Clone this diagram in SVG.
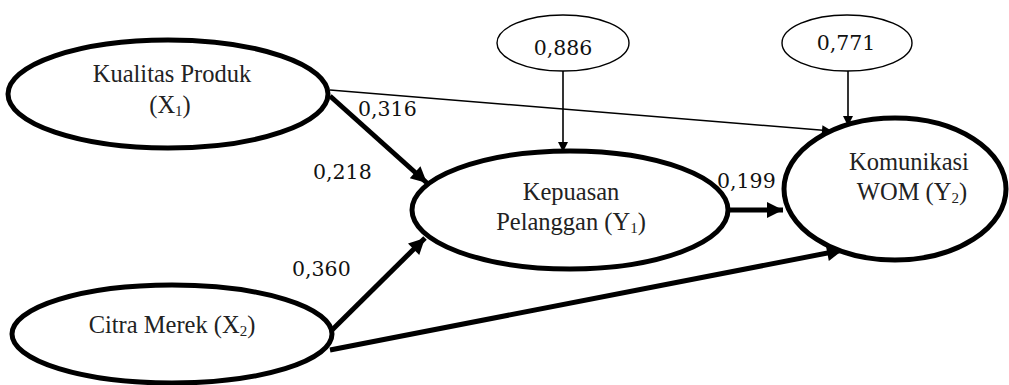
<svg xmlns="http://www.w3.org/2000/svg" width="1009" height="385" viewBox="0 0 1009 385">
<style>
.big{fill:#fff;stroke:#000;stroke-width:5}
.small{fill:#fff;stroke:#000;stroke-width:1.4}
.lbl{font-size:24.5px;fill:#222;text-anchor:middle}
.num{font-size:20.5px;fill:#111}
.thick{stroke:#000;stroke-width:5;fill:none}
.thin{stroke:#000;stroke-width:1.6;fill:none}
.sub{font-size:15px}
</style>
<defs>
<marker id="ah" viewBox="0 0 10 10" refX="10" refY="5" markerUnits="userSpaceOnUse" markerWidth="18" markerHeight="16" orient="auto"><path d="M0,0 L10,5 L0,10 z" fill="#000"/></marker>
<marker id="ahs" viewBox="0 0 10 10" refX="10" refY="5" markerUnits="userSpaceOnUse" markerWidth="12" markerHeight="10" orient="auto"><path d="M0,0 L10,5 L0,10 z" fill="#000"/></marker>
</defs>
<g id="connectors">
<line class="thin" x1="330" y1="90" x2="832" y2="131" marker-end="url(#ahs)"/>
<line class="thick" x1="330" y1="96" x2="427" y2="183" marker-end="url(#ah)"/>
<line class="thick" x1="330" y1="332" x2="425" y2="238" marker-end="url(#ah)"/>
<line class="thick" x1="330" y1="350" x2="843" y2="250" marker-end="url(#ah)"/>
<line class="thick" x1="728" y1="210" x2="783" y2="210" marker-end="url(#ah)"/>
<line class="thin" x1="563" y1="71" x2="563" y2="152" marker-end="url(#ahs)"/>
<line class="thin" x1="848" y1="71" x2="848" y2="126" marker-end="url(#ahs)"/>
</g>
<g id="kualitas" font-family="'Liberation Serif', 'Times New Roman', serif">
<ellipse class="big" cx="168" cy="94" rx="160" ry="54"/>
<text class="lbl" x="172" y="82">Kualitas Produk</text>
<text class="lbl" x="170" y="113">(X<tspan class="sub" dy="3">1</tspan><tspan dy="-3">)</tspan></text>
</g>
<g id="citra" font-family="'Liberation Serif', 'Times New Roman', serif">
<ellipse class="big" cx="172" cy="334" rx="160" ry="49"/>
<text class="lbl" x="172" y="333">Citra Merek (X<tspan class="sub" dy="3">2</tspan><tspan dy="-3">)</tspan></text>
</g>
<g id="kepuasan" font-family="'Liberation Serif', 'Times New Roman', serif">
<ellipse class="big" cx="570" cy="210" rx="158" ry="59"/>
<text class="lbl" x="571" y="200">Kepuasan</text>
<text class="lbl" x="571" y="230">Pelanggan (Y<tspan class="sub" dy="3">1</tspan><tspan dy="-3">)</tspan></text>
</g>
<g id="komunikasi" font-family="'Liberation Serif', 'Times New Roman', serif">
<ellipse class="big" cx="895" cy="189" rx="111" ry="71"/>
<text class="lbl" x="909" y="170">Komunikasi</text>
<text class="lbl" x="912" y="200">WOM (Y<tspan class="sub" dy="3">2</tspan><tspan dy="-3">)</tspan></text>
</g>
<g id="e1" font-family="'DejaVu Serif', serif">
<ellipse class="small" cx="563" cy="43" rx="66" ry="28"/>
<text class="num" x="563" y="55" text-anchor="middle">0,886</text>
</g>
<g id="e2" font-family="'DejaVu Serif', serif">
<ellipse class="small" cx="847" cy="43" rx="65" ry="28"/>
<text class="num" x="846" y="50" text-anchor="middle">0,771</text>
</g>
<g id="labels" font-family="'DejaVu Serif', serif">
<text class="num" x="358" y="116">0,316</text>
<text class="num" x="313" y="179">0,218</text>
<text class="num" x="292" y="276">0,360</text>
<text class="num" x="717" y="188">0,199</text>
</g>
</svg>
